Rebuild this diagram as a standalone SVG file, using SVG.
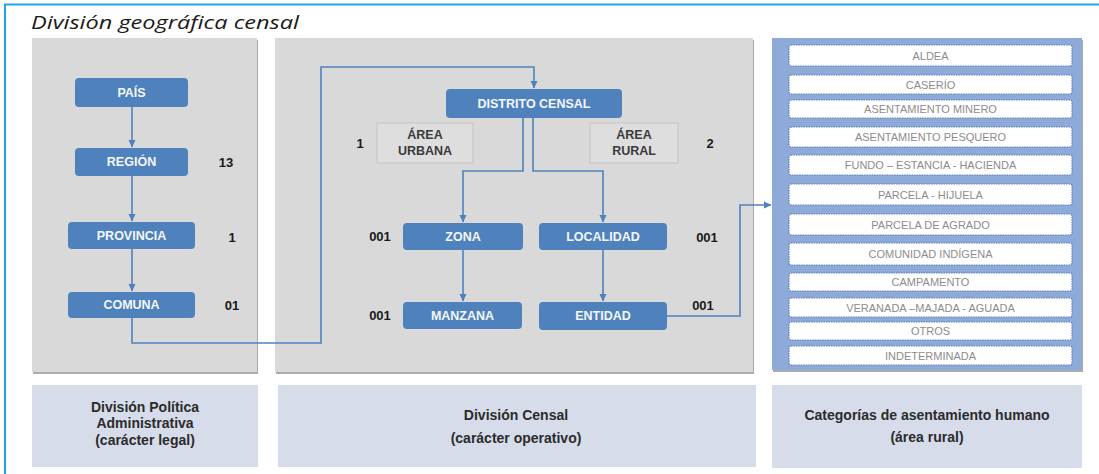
<svg xmlns="http://www.w3.org/2000/svg" width="1099" height="474" viewBox="0 0 1099 474">
<defs>
<marker id="arr" markerWidth="8" markerHeight="8" refX="7" refY="4" orient="auto" markerUnits="userSpaceOnUse">
<path d="M0,0.5 L7.5,4 L0,7.5 Z" fill="#4f81bd"/>
</marker>
<style>
.panel{fill:#d9d9d9}
.shadow{fill:#ababab}
.foot{fill:#d6dcea}
.node{fill:#4f81bd}
.nt{font-family:"Liberation Sans",Arial,sans-serif;font-weight:bold;font-size:12.5px;fill:#f4f7fb;text-anchor:middle;dominant-baseline:central}
.num{font-family:"Liberation Sans",Arial,sans-serif;font-weight:bold;font-size:13px;fill:#1a1a1a;text-anchor:middle;dominant-baseline:central}
.area{fill:#dedede;stroke:#c4c4c4;stroke-width:1}
.at{font-family:"Liberation Sans",Arial,sans-serif;font-weight:bold;font-size:12.5px;fill:#3a3a3a;text-anchor:middle;dominant-baseline:central}
.item{fill:#ffffff;stroke:#5b7fb5;stroke-width:1.2;stroke-dasharray:1.5 1}
.it{font-family:"Liberation Sans",Arial,sans-serif;font-size:11px;fill:#8c8c8c;text-anchor:middle;dominant-baseline:central}
.ft{font-family:"Liberation Sans",Arial,sans-serif;font-weight:bold;font-size:14px;fill:#2b2b2b;text-anchor:middle;dominant-baseline:central}
.conn{fill:none;stroke:#4f81bd;stroke-width:1.6}
</style>
</defs>
<rect x="0" y="0" width="1099" height="474" fill="#ffffff"/>
<path d="M5,474 L5,4.5 L1099,4.5" fill="none" stroke="#1ea6ec" stroke-width="2"/>
<text x="31" y="29" font-family="Open Sans,Liberation Sans,sans-serif" font-style="italic" font-size="19" fill="#1a1a1a" textLength="268" lengthAdjust="spacingAndGlyphs">División geográfica censal</text>

<g id="panel-dpa">
<rect class="shadow" x="33" y="40" width="225" height="334"/>
<rect class="panel" x="32" y="38" width="225" height="334"/>
<rect class="foot" x="32" y="385" width="226" height="82"/>
<text class="ft" x="145" y="407">División Política</text>
<text class="ft" x="145" y="423">Administrativa</text>
<text class="ft" x="145" y="440">(carácter legal)</text>
</g>
<g id="panel-censal">
<rect class="shadow" x="276" y="40" width="478" height="334"/>
<rect class="panel" x="275" y="38" width="478" height="334"/>
<rect class="foot" x="278" y="385" width="478" height="82"/>
<text class="ft" x="516" y="415">División Censal</text>
<text class="ft" x="516" y="438">(carácter operativo)</text>
</g>
<g id="panel-categorias">
<rect class="shadow" x="773" y="40" width="310" height="332"/>
<rect x="772" y="38" width="310" height="332" fill="#8eaad8"/>
<rect class="foot" x="772" y="385" width="310" height="83"/>
<text class="ft" x="927" y="415">Categorías de asentamiento humano</text>
<text class="ft" x="927" y="437">(área rural)</text>
</g>

<g id="connectors">
<line class="conn" x1="132" y1="107" x2="132" y2="147" marker-end="url(#arr)"/>
<line class="conn" x1="132" y1="176" x2="132" y2="221" marker-end="url(#arr)"/>
<line class="conn" x1="132" y1="249" x2="132" y2="291" marker-end="url(#arr)"/>
<path class="conn" d="M132,318 L132,343 L321,343 L321,67 L534,67 L534,88" marker-end="url(#arr)"/>
<path class="conn" d="M523,118 L523,171 L463,171 L463,222" marker-end="url(#arr)"/>
<path class="conn" d="M533,118 L533,171 L603,171 L603,222" marker-end="url(#arr)"/>
<line class="conn" x1="463" y1="250" x2="463" y2="301" marker-end="url(#arr)"/>
<line class="conn" x1="603" y1="250" x2="603" y2="301" marker-end="url(#arr)"/>
<path class="conn" d="M667,316 L740,316 L740,205 L771,205" marker-end="url(#arr)"/>
</g>

<g id="node-pais"><rect class="node" x="75" y="78" width="113" height="29" rx="4"/><text class="nt" x="131.5" y="93">PAÍS</text></g>
<g id="node-region"><rect class="node" x="75" y="148" width="113" height="28" rx="4"/><text class="nt" x="131.5" y="162">REGIÓN</text><text class="num" x="226" y="162">13</text></g>
<g id="node-provincia"><rect class="node" x="68" y="222" width="127" height="27" rx="4"/><text class="nt" x="131.5" y="236">PROVINCIA</text><text class="num" x="232" y="237">1</text></g>
<g id="node-comuna"><rect class="node" x="68" y="292" width="127" height="26" rx="4"/><text class="nt" x="131.5" y="305">COMUNA</text><text class="num" x="232" y="305">01</text></g>

<g id="node-distrito"><rect class="node" x="446" y="89" width="176" height="29" rx="4"/><text class="nt" x="534" y="103.5">DISTRITO CENSAL</text></g>
<g id="area-urbana"><rect class="area" x="377" y="123" width="96" height="40"/><text class="at" x="425" y="135">ÁREA</text><text class="at" x="425" y="151">URBANA</text><text class="num" x="360" y="143">1</text></g>
<g id="area-rural"><rect class="area" x="590" y="123" width="88" height="40"/><text class="at" x="634" y="135">ÁREA</text><text class="at" x="634" y="151">RURAL</text><text class="num" x="710" y="143">2</text></g>
<g id="node-zona"><rect class="node" x="403" y="223" width="120" height="27" rx="4"/><text class="nt" x="463" y="236.5">ZONA</text><text class="num" x="380" y="236">001</text></g>
<g id="node-localidad"><rect class="node" x="539" y="223" width="128" height="27" rx="4"/><text class="nt" x="603" y="236.5">LOCALIDAD</text><text class="num" x="707" y="237">001</text></g>
<g id="node-manzana"><rect class="node" x="403" y="302" width="119" height="27" rx="4"/><text class="nt" x="462.5" y="315.5">MANZANA</text><text class="num" x="380" y="315">001</text></g>
<g id="node-entidad"><rect class="node" x="539" y="302" width="128" height="28" rx="4"/><text class="nt" x="603" y="316">ENTIDAD</text><text class="num" x="703" y="305">001</text></g>

<g id="categorias">
<rect class="item" x="789" y="45" width="283" height="21" rx="2"/><text class="it" x="930.5" y="56">ALDEA</text>
<rect class="item" x="789" y="75" width="283" height="19" rx="2"/><text class="it" x="930.5" y="84.5">CASERÍO</text>
<rect class="item" x="789" y="100" width="283" height="18" rx="2"/><text class="it" x="930.5" y="109">ASENTAMIENTO MINERO</text>
<rect class="item" x="789" y="127" width="283" height="20" rx="2"/><text class="it" x="930.5" y="137">ASENTAMIENTO PESQUERO</text>
<rect class="item" x="789" y="155" width="283" height="20" rx="2"/><text class="it" x="930.5" y="165">FUNDO – ESTANCIA - HACIENDA</text>
<rect class="item" x="789" y="184" width="283" height="21" rx="2"/><text class="it" x="930.5" y="194.5">PARCELA - HIJUELA</text>
<rect class="item" x="789" y="214" width="283" height="21" rx="2"/><text class="it" x="930.5" y="224.5">PARCELA DE AGRADO</text>
<rect class="item" x="789" y="243" width="283" height="22" rx="2"/><text class="it" x="930.5" y="254">COMUNIDAD INDÍGENA</text>
<rect class="item" x="789" y="273" width="283" height="18" rx="2"/><text class="it" x="930.5" y="282">CAMPAMENTO</text>
<rect class="item" x="789" y="298" width="283" height="19" rx="2"/><text class="it" x="930.5" y="307.5">VERANADA –MAJADA - AGUADA</text>
<rect class="item" x="789" y="322" width="283" height="18" rx="2"/><text class="it" x="930.5" y="331">OTROS</text>
<rect class="item" x="789" y="346" width="283" height="19" rx="2"/><text class="it" x="930.5" y="355.5">INDETERMINADA</text>
</g>
</svg>
